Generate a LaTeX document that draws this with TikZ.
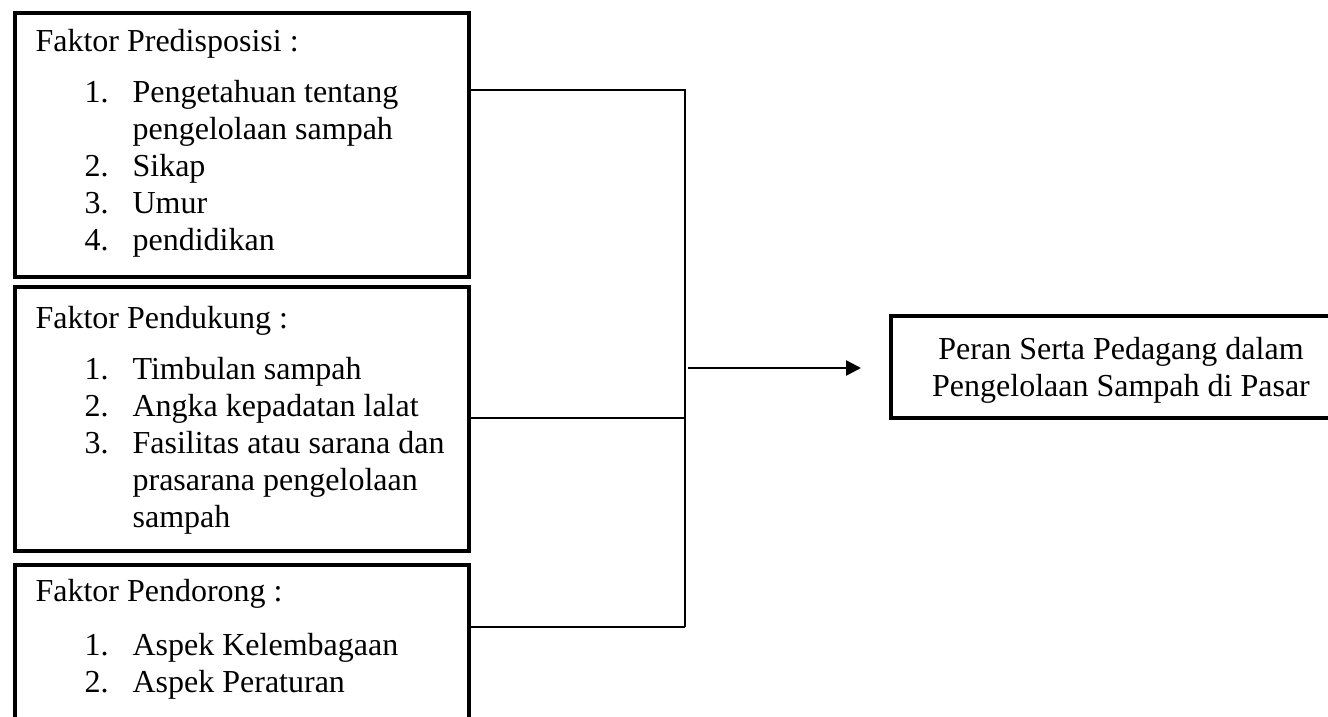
\documentclass[tikz,border=0pt]{standalone}
\usepackage{fontspec}
\setmainfont{Liberation Serif}
\usetikzlibrary{arrows.meta,calc,positioning}

% numbered list line and its continuation (hanging indent)
\newcommand{\numitem}[2]{\hspace*{18.4pt}\makebox[18pt][l]{#1}#2}
\newcommand{\contitem}[1]{\hspace*{36.4pt}#1}

\begin{document}
\begin{tikzpicture}[x=0.375pt, y=-0.375pt, >=Latex,
  font=\fontsize{12}{13.8}\selectfont,
  faktorbox/.style={draw, line width=1.5pt, anchor=north west,
    inner sep=0pt, minimum width=170.25pt},
  % base of a multi-line node = baseline of its last line
  listtext/.style={anchor=base west, align=left, inner sep=0pt},
  link/.style={line width=0.5pt},
  flow/.style={-{Triangle[length=5.6pt,width=5.6pt]}, line width=1pt}]

\clip (0,0) rectangle (1328,717);

% =====================================================================
% Three factor boxes on the left
% =====================================================================

% --- Faktor Predisposisi ---
\node[faktorbox, minimum height=99pt] (predis) at (13,11) {};
\node[listtext] (predistxt) at (35,250) {Faktor Predisposisi :\\[5.4pt]
  \numitem{1.}{Pengetahuan tentang}\\
  \contitem{pengelolaan sampah}\\
  \numitem{2.}{Sikap}\\
  \numitem{3.}{Umur}\\
  \numitem{4.}{pendidikan}};

% --- Faktor Pendukung ---
\node[faktorbox, minimum height=99pt] (dukung) at (13,285) {};
\node[listtext] (dukungtxt) at (35,527) {Faktor Pendukung :\\[5.4pt]
  \numitem{1.}{Timbulan sampah}\\
  \numitem{2.}{Angka kepadatan lalat}\\
  \numitem{3.}{Fasilitas atau sarana dan}\\
  \contitem{prasarana pengelolaan}\\
  \contitem{sampah}};

% --- Faktor Pendorong (runs off the page) ---
\node[faktorbox, minimum height=90pt] (dorong) at (13,563) {};
\node[listtext] (dorongtxt) at (35,692) {Faktor Pendorong :\\[6.4pt]
  \numitem{1.}{Aspek Kelembagaan}\\
  \numitem{2.}{Aspek Peraturan}};

% =====================================================================
% Outcome box on the right (runs off the page)
% =====================================================================
\node[draw, line width=1.5pt, minimum width=172.5pt, minimum height=38pt,
      inner sep=0pt] (peran) at (1121,367) {};
\node[align=center, anchor=base, inner sep=0pt] (perantxt) at (1121,396)
  {Peran Serta Pedagang dalam\\Pengelolaan Sampah di Pasar};

% =====================================================================
% Connectors
% =====================================================================
\coordinate (bustop) at (685,90);
\coordinate (busmid) at (685,418);
\coordinate (busbot) at (685,627);
\coordinate (busout) at (688,368);

\draw[link] (predis.east |- bustop) -- (bustop) -- (busbot);
\draw[link] (dukung.east |- busmid) -- (busmid);
\draw[link] (dorong.east |- busbot) -- (busbot);
\draw[flow, shorten >=10.5pt] (busout) -- (busout -| peran.west);

\end{tikzpicture}
\end{document}
